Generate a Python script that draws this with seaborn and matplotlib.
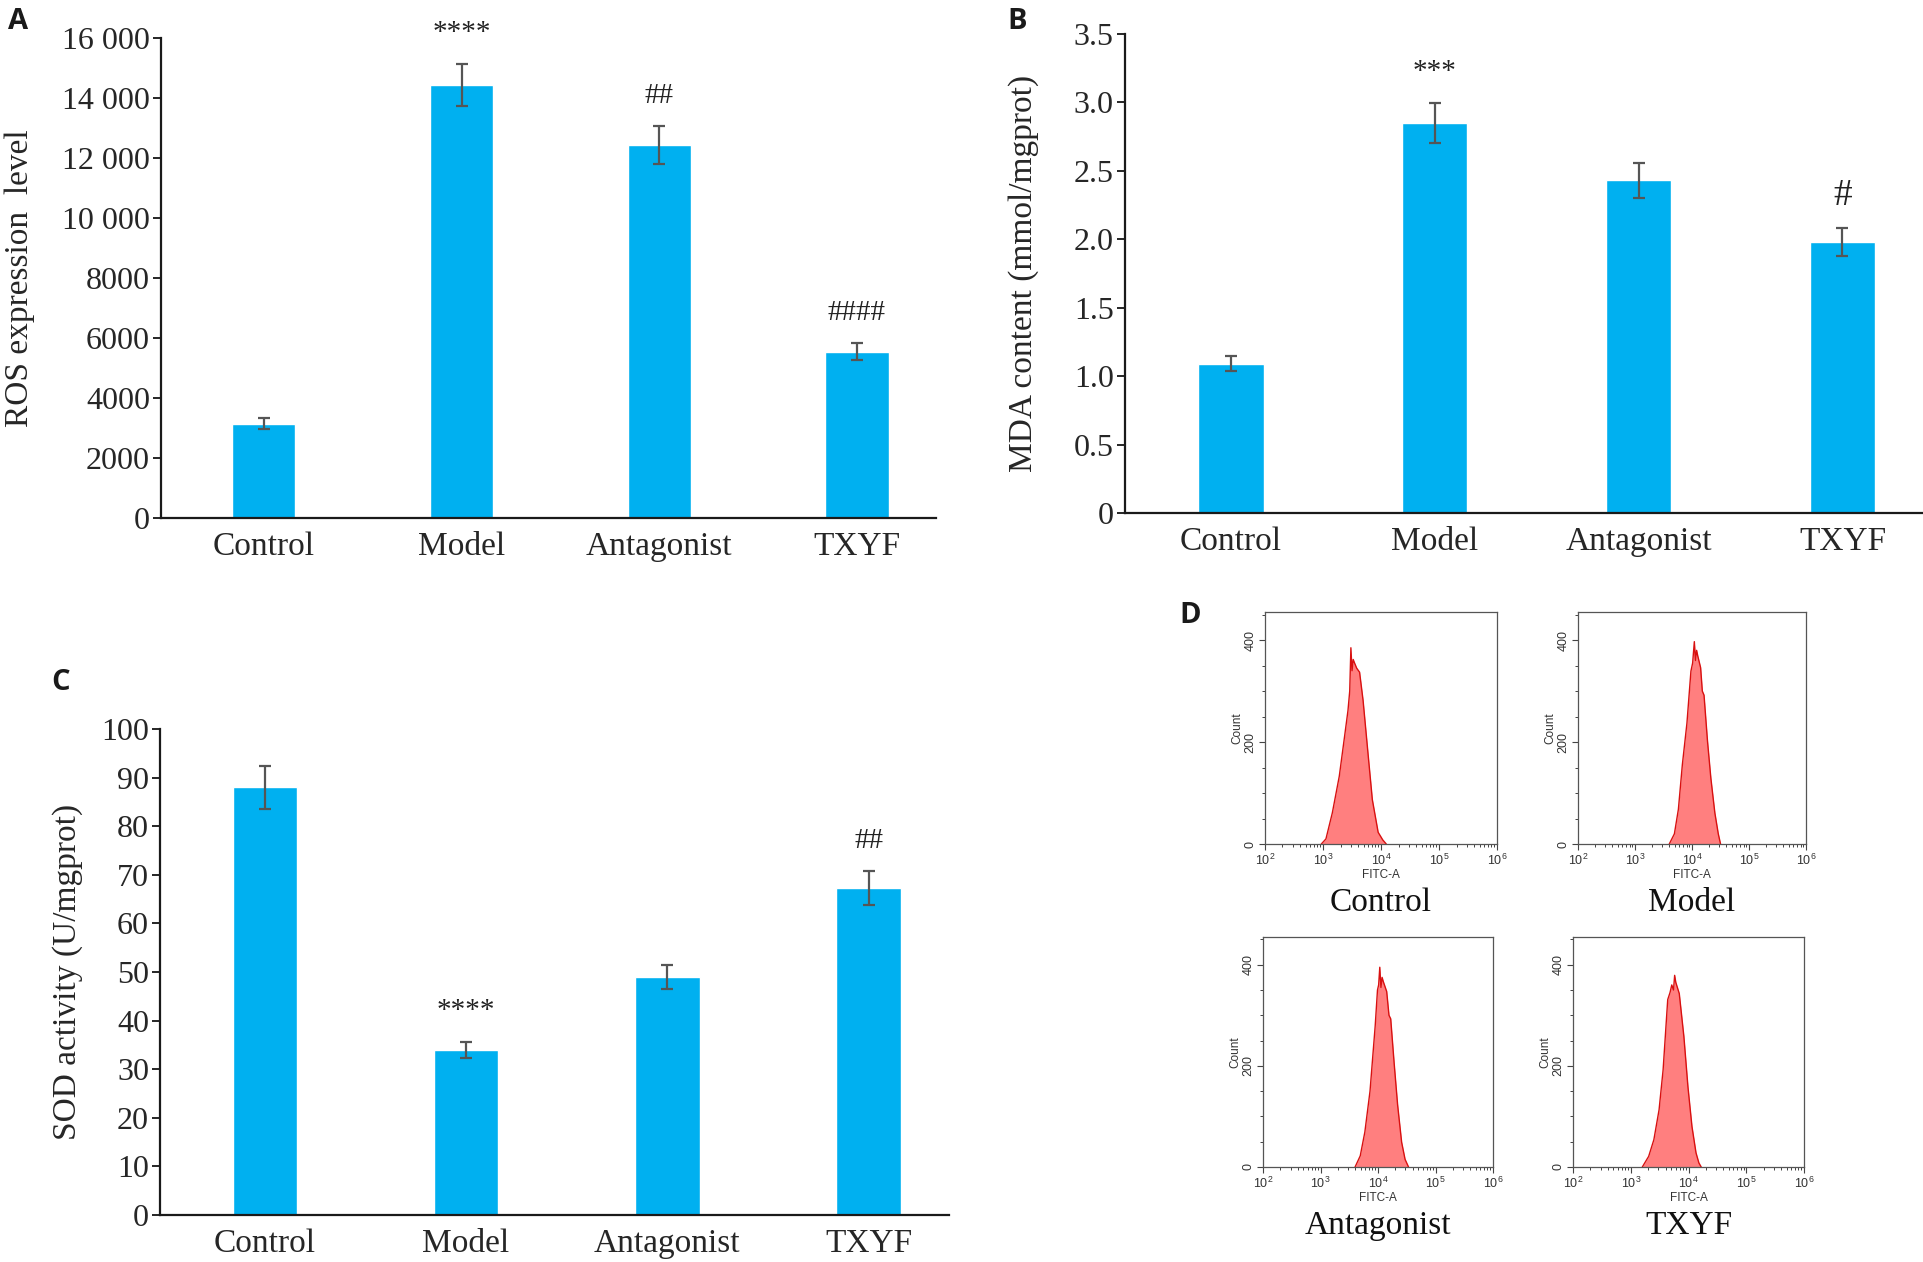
import numpy as np
import pandas as pd
import matplotlib
matplotlib.use("Agg")
import matplotlib.pyplot as plt
import seaborn as sns
from matplotlib.ticker import MultipleLocator, FixedLocator, LogLocator, NullFormatter

# Bar chart data
groups = ["Control", "Model", "Antagonist", "TXYF"]

ros_mean = [3150, 14450, 12430, 5550]
ros_err = [180, 700, 630, 280]
ros_marks = ["", "****", "##", "####"]
ros_ticks = [0, 2000, 4000, 6000, 8000, 10000, 12000, 14000, 16000]
ros_ticklabels = ["0", "2000", "4000", "6000", "8000", "10 000", "12 000", "14 000", "16 000"]

mda_mean = [1.09, 2.85, 2.43, 1.98]
mda_err = [0.055, 0.145, 0.125, 0.10]
mda_marks = ["", "***", "", "#"]
mda_ticks = [0, 0.5, 1.0, 1.5, 2.0, 2.5, 3.0, 3.5]
mda_ticklabels = ["0", "0.5", "1.0", "1.5", "2.0", "2.5", "3.0", "3.5"]

sod_mean = [88.0, 34.0, 49.0, 67.3]
sod_err = [4.4, 1.7, 2.4, 3.4]
sod_marks = ["", "****", "", "##"]
sod_ticks = [0, 10, 20, 30, 40, 50, 60, 70, 80, 90, 100]
sod_ticklabels = [str(t) for t in sod_ticks]

# Flow cytometry histograms (log10 FITC-A, count)
ctrl_logx = [2.97, 3.05, 3.16, 3.28, 3.37, 3.43, 3.46, 3.48, 3.50, 3.52, 3.54, 3.58, 3.63, 3.69, 3.77, 3.85, 3.95, 4.03, 4.09]
ctrl_count = [0, 10, 61, 133, 210, 262, 300, 385, 340, 362, 356, 345, 337, 282, 184, 87, 23, 8, 0]

model_logx = [3.60, 3.69, 3.76, 3.83, 3.91, 3.98, 4.01, 4.04, 4.06, 4.08, 4.10, 4.15, 4.18, 4.21, 4.27, 4.33, 4.40, 4.46, 4.50]
model_count = [0, 20, 68, 156, 237, 339, 355, 397, 360, 380, 369, 346, 300, 292, 203, 129, 61, 20, 0]

antag_logx = [3.60, 3.69, 3.77, 3.86, 3.95, 3.99, 4.01, 4.03, 4.05, 4.07, 4.09, 4.15, 4.19, 4.22, 4.28, 4.34, 4.41, 4.47, 4.53]
antag_count = [0, 22, 69, 150, 279, 350, 360, 395, 355, 375, 367, 347, 300, 293, 205, 123, 49, 15, 0]

txyf_logx = [3.20, 3.31, 3.40, 3.49, 3.56, 3.64, 3.68, 3.71, 3.74, 3.76, 3.78, 3.84, 3.92, 3.99, 4.06, 4.13, 4.18, 4.22]
txyf_count = [0, 21, 54, 113, 192, 331, 345, 360, 350, 379, 365, 343, 258, 159, 80, 28, 8, 0]

hist_names = ["Control", "Model", "Antagonist", "TXYF"]
hist_logx = [ctrl_logx, model_logx, antag_logx, txyf_logx]
hist_count = [ctrl_count, model_count, antag_count, txyf_count]

sns.set_style("ticks")
plt.rcParams['font.family'] = ['Liberation Serif', 'DejaVu Serif']
plt.rcParams['mathtext.fontset'] = 'custom'
plt.rcParams['mathtext.rm'] = 'Liberation Sans'

bar_color = "#00B0F0"
err_color = "#555555"

fig = plt.figure(figsize=(19.24, 12.62), dpi=100)


def bar_panel(rect, means, errs, marks, ticks, ticklabels, ylabel, ymax, label_x, mark_sizes):
    ax = fig.add_axes(rect)
    sns.barplot(x=groups, y=means, color=bar_color, saturation=1, width=0.32,
                errorbar=None, ax=ax)
    ax.errorbar(np.arange(len(groups)), means, yerr=errs, fmt='none',
                ecolor=err_color, elinewidth=1.6, capsize=4, capthick=1.6)
    for i, m in enumerate(marks):
        if m:
            ax.annotate(m, (i, means[i] + errs[i]), xytext=(0, 17),
                        textcoords='offset points', ha='center', va='baseline',
                        fontsize=mark_sizes.get(m, 20), color='#222222')
    ax.set_xlim(-0.52, 3.4)
    ax.set_ylim(0, ymax)
    ax.yaxis.set_major_locator(FixedLocator(ticks))
    ax.set_yticklabels(ticklabels)
    ax.tick_params(axis='y', labelsize=23, length=6, width=1.4, direction='out', pad=2)
    ax.tick_params(axis='x', labelsize=24, length=0, pad=10)
    ax.set_ylabel(ylabel, fontsize=24)
    ax.yaxis.set_label_coords(label_x, 0.5)
    ax.set_xlabel("")
    sns.despine(ax=ax)
    for s in ['left', 'bottom']:
        ax.spines[s].set_linewidth(1.6)
        ax.spines[s].set_color('#1a1a1a')
    return ax


axA = bar_panel([0.0837, 0.5895, 0.4028, 0.3803], ros_mean, ros_err, ros_marks,
                ros_ticks, ros_ticklabels, "ROS expression  level", 16000, -0.162,
                {"****": 21, "##": 21, "####": 21})
axB = bar_panel([0.5847, 0.5935, 0.4153, 0.3796], mda_mean, mda_err, mda_marks,
                mda_ticks, mda_ticklabels, "MDA content (mmol/mgprot)", 3.5, -0.107,
                {"***": 21, "#": 27})
axC = bar_panel([0.0832, 0.0372, 0.4101, 0.3851], sod_mean, sod_err, sod_marks,
                sod_ticks, sod_ticklabels, "SOD activity (U/mgprot)", 100, -0.098,
                {"****": 21, "##": 21})

# Flow histograms
hist_rects = [[0.6575, 0.3312, 0.1206, 0.1838],
              [0.8202, 0.3312, 0.1185, 0.1838],
              [0.6565, 0.0753, 0.1195, 0.1823],
              [0.8176, 0.0753, 0.1200, 0.1823]]

for rect, name, lx, cnt in zip(hist_rects, hist_names, hist_logx, hist_count):
    ax = fig.add_axes(rect)
    fitc = 10 ** np.array(lx)
    df = pd.DataFrame({"FITC-A": fitc, "Count": cnt})
    ax.fill_between(df["FITC-A"], 0, df["Count"], color="#FF7F7F", lw=0)
    sns.lineplot(data=df, x="FITC-A", y="Count", color="#D81010", lw=1.0, ax=ax)
    ax.set_xscale('log')
    ax.set_xlim(1e2, 1e6)
    ax.set_ylim(0, 455)
    ax.xaxis.set_major_locator(LogLocator(base=10, numticks=10))
    ax.xaxis.set_minor_locator(LogLocator(base=10, subs=np.arange(2, 10), numticks=10))
    ax.xaxis.set_minor_formatter(NullFormatter())
    ax.yaxis.set_major_locator(FixedLocator([0, 200, 400]))
    ax.yaxis.set_minor_locator(MultipleLocator(50))
    for lab in ax.get_xticklabels() + ax.get_yticklabels():
        lab.set_family(['Liberation Sans', 'DejaVu Sans'])
    ax.tick_params(axis='both', which='major', labelsize=9, length=4, width=0.8,
                   colors='#444444', labelcolor='#333333', pad=2)
    ax.tick_params(axis='both', which='minor', length=2.5, width=0.7, colors='#444444')
    ax.tick_params(axis='y', labelrotation=90)
    for lab in ax.get_yticklabels():
        lab.set_va('center')
    ax.set_xlabel("FITC-A", fontsize=8.5, family=['Liberation Sans', 'DejaVu Sans'],
                  color='#333333', labelpad=1)
    ax.set_ylabel("Count", fontsize=8.5, family=['Liberation Sans', 'DejaVu Sans'],
                  color='#333333', labelpad=1)
    for s in ax.spines.values():
        s.set_linewidth(0.9)
        s.set_color('#555555')
    ax.text(0.5, -0.255, name, transform=ax.transAxes, ha='center', va='center',
            fontsize=24, color='#111111')

# Panel letters
for letter, x, y in [("A", 0.0094, 0.983), ("B", 0.5286, 0.983),
                     ("C", 0.0317, 0.459), ("D", 0.6185, 0.512)]:
    fig.text(x, y, letter, fontsize=21, fontweight='bold',
             family=['Open Sans', 'DejaVu Sans'], ha='center', va='center', color='#1a1a1a')

fig.savefig("out.png", dpi=100, facecolor='white')
